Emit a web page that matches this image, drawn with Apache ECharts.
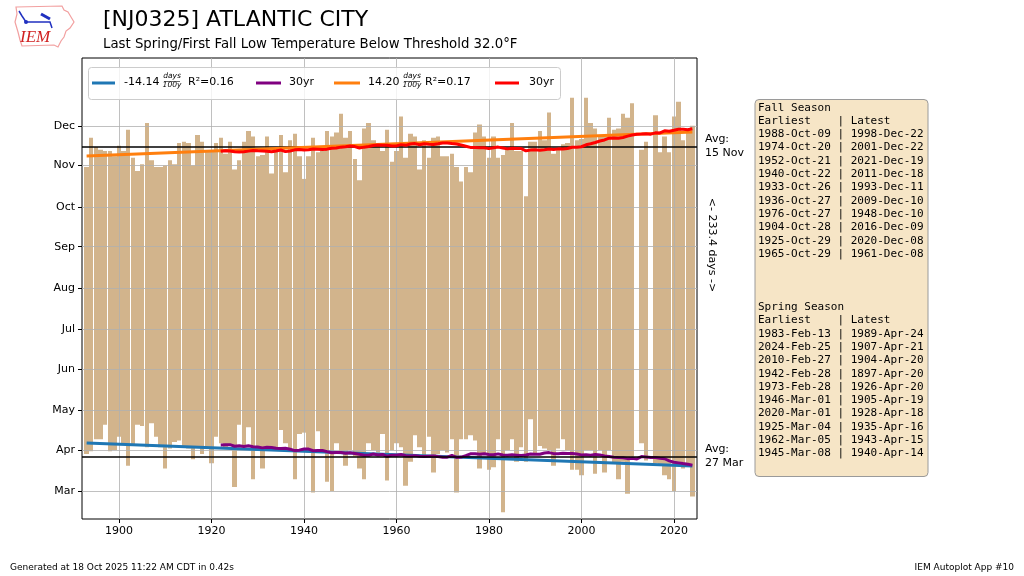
<!DOCTYPE html>
<html>
<head>
<meta charset="utf-8">
<title>[NJ0325] ATLANTIC CITY</title>
<script src="https://cdn.jsdelivr.net/npm/echarts@6/dist/echarts.min.js"></script>
<style>
html,body{margin:0;padding:0;background:#fff;}
#chart{width:1024px;height:576px;}
</style>
</head>
<body>
<div id="chart"></div>
<script>
// first year of record, one value per year after that
var firstYear = 1893;
// last spring day of year at or below 32F (null = year missing)
var springDoy = [
	88, 90, 99, 99,110, 90, 91,101, 96, 79,   // 1893-1902
	94,110,109, 93,111,101, 93, 77, 92, 97,   // 1903-1912
	98, 93, 92, 84, 93, 88, 93, 81,101, 96,   // 1913-1922
	93, 94, 63,110, 94,108, 69, 93, 77, 91,   // 1923-1932
	92, 91,106, 96, 91, 69,103,104, 89, 59,   // 1933-1942
	105, 91, 67, 60, 96, 88, 79, 91, 86, 77,  // 1943-1952
	69, 96, 91, 89,103, 68, 91, 96, 93, 64,   // 1953-1962
	82,102, 93, 87,101, 74, 88, 91, 89, 99,   // 1963-1972
	59, 99, 99,102, 98, 77, 88, 76, 78, 99,   // 1973-1982
	44, 91, 99, 82, 93, 82,114, 88, 94, 92,   // 1983-1992
	91, 79, 92, 99, 91, 76, 76, 72, 91, 91,   // 1993-2002
	73, 91, 74, 91, 81, 69, 82, 58, 86,null,  // 2003-2012
	96, 83,null, 81, 79, 72, 69, 60, 80, 77,  // 2013-2022
	79, 56                                    // 2023-2024
];
// first fall day of year at or below 32F
var fallDoy = [
	304,326,319,317,316,316,312,320,316,332,  // 1893-1902
	311,301,306,337,309,304,304,305,309,306,  // 1903-1912
	322,323,322,305,328,323,316,316,322,326,  // 1913-1922
	314,323,302,309,323,331,327,312,313,327,  // 1923-1932
	299,318,328,300,324,329,312,295,312,326,  // 1933-1942
	315,316,331,327,330,344,326,331,310,294,  // 1943-1952
	333,337,324,322,316,332,308,316,342,311,  // 1953-1962
	329,327,302,324,311,326,327,312,312,314,  // 1963-1972
	304,293,304,300,330,336,327,311,327,311,  // 1973-1982
	313,317,337,316,316,282,323,323,331,324,  // 1983-1992
	345,314,318,321,322,356,324,325,356,337,  // 1993-2002
	333,327,327,341,332,333,344,341,352,null, // 2003-2012
	317,323,null,343,315,327,315,342,353,324, // 2013-2022
	332,335                                   // 2023-2024
];
// y axis ticks (day of year of the 1st of each month)
var monthTicks = [60, 91, 121, 152, 182, 213, 244, 274, 305, 335];
var monthLabels = ['Mar','Apr','May','Jun','Jul','Aug','Sep','Oct','Nov','Dec'];
var yearTicks = [1900, 1920, 1940, 1960, 1980, 2000, 2020];
// averages: 15 Nov / 27 Mar, 233.4 days apart
var avgFall = 319.4;
var avgSpring = 86.0;

var fallTable = [
	'Fall Season',
	'Earliest    | Latest',
	'1988-Oct-09 | 1998-Dec-22',
	'1974-Oct-20 | 2001-Dec-22',
	'1952-Oct-21 | 2021-Dec-19',
	'1940-Oct-22 | 2011-Dec-18',
	'1933-Oct-26 | 1993-Dec-11',
	'1936-Oct-27 | 2009-Dec-10',
	'1976-Oct-27 | 1948-Dec-10',
	'1904-Oct-28 | 2016-Dec-09',
	'1925-Oct-29 | 2020-Dec-08',
	'1965-Oct-29 | 1961-Dec-08'
];
var springTable = [
	'Spring Season',
	'Earliest    | Latest',
	'1983-Feb-13 | 1989-Apr-24',
	'2024-Feb-25 | 1907-Apr-21',
	'2010-Feb-27 | 1904-Apr-20',
	'1942-Feb-28 | 1897-Apr-20',
	'1973-Feb-28 | 1926-Apr-20',
	'1946-Mar-01 | 1905-Apr-19',
	'2020-Mar-01 | 1928-Apr-18',
	'1925-Mar-04 | 1935-Apr-16',
	'1962-Mar-05 | 1943-Apr-15',
	'1945-Mar-08 | 1940-Apr-14'
];

var years = [];
for (var i = 0; i < springDoy.length; i++) {
	years.push(firstYear + i);
}

//least squares line over the years that have data
function trendLine(vals){
	var n=0,sx=0,sy=0,sxx=0,sxy=0;
	for(var i=0;i<vals.length;i++){
		if(vals[i]==null) continue;
		var x=years[i]-1950, y=vals[i];
		n++; sx+=x; sy+=y; sxx+=x*x; sxy+=x*y;
	}
	var b=(n*sxy-sx*sy)/(n*sxx-sx*sx);
	var a=(sy-b*sx)/n;
	var x0=years[0], x1=years[years.length-1];
	return [[x0, a+b*(x0-1950)], [x1, a+b*(x1-1950)]];
}
//30 year trailing mean
function rolling30(vals){
	var out=[];
	for(var i=29;i<vals.length;i++){
		var s=0,n=0;
		for(var j=i-29;j<=i;j++){
			if(vals[j]!=null){ s+=vals[j]; n++; }
		}
		out.push([years[i], s/n]);
	}
	return out;
}

// one item per year: [year, spring, fall]; missing years are left out
var seasonData=[];
for(var i=0;i<years.length;i++){
	if(springDoy[i]==null||fallDoy[i]==null) continue;
	seasonData.push([years[i], springDoy[i], fallDoy[i]]);
}

//bar from spring date up to fall date, edges snapped to whole pixels
function renderSeason(params, api){
	var yr=api.value(0);
	var left=api.coord([yr-0.475, api.value(2)]);
	var right=api.coord([yr+0.475, api.value(1)]);
	var x0=Math.round(left[0]), x1=Math.round(right[0]);
	return {
		type: 'rect',
		shape: {x: x0, y: left[1], width: x1-x0, height: right[1]-left[1]},
		style: {fill: '#d2b48c'}
	};
}

var FONT = 'DejaVu Sans';
var chart = echarts.init(document.getElementById('chart'), null, {renderer:'canvas'});

var option = {
	animation: false,
	backgroundColor: '#fff',
	textStyle: {fontFamily: FONT},
	title: [
		{text: '[NJ0325] ATLANTIC CITY', left: 103, top: 9, padding: 0,
		 textStyle: {fontFamily: FONT, fontSize: 22, fontWeight: 'normal', color: '#000'}},
		{text: 'Last Spring/First Fall Low Temperature Below Threshold 32.0°F', left: 103, top: 38, padding: 0,
		 textStyle: {fontFamily: FONT, fontSize: 13.3, fontWeight: 'normal', color: '#000'}}
	],
	grid: {left: 82, right: 327, top: 58, bottom: 57, show: true, borderColor: '#000', borderWidth: 1, backgroundColor: 'transparent'},
	xAxis: {
		type: 'value', min: 1892, max: 2025, z: 2,
		axisLine: {show: false},
		axisTick: {show: true, length: 4, customValues: yearTicks, lineStyle: {color: '#000'}},
		axisLabel: {customValues: yearTicks, color: '#000', fontSize: 11, margin: 7, fontFamily: FONT,
			formatter: function(v){ return String(v); }},
		splitLine: {show: true, lineStyle: {color: '#b0b0b0', width: 0.8}}
	},
	yAxis: {
		type: 'value', min: 39, max: 386, z: 2,
		axisLine: {show: false},
		axisTick: {show: true, length: 4, customValues: monthTicks, lineStyle: {color: '#000'}},
		axisLabel: {customValues: monthTicks, color: '#000', fontSize: 11, margin: 7, fontFamily: FONT,
			formatter: function(v){ var k=monthTicks.indexOf(v); return k<0?'':monthLabels[k]; }},
		splitLine: {show: true, lineStyle: {color: '#b0b0b0', width: 0.8}}
	},
	series: [
		{name: 'season', type: 'custom', renderItem: renderSeason, data: seasonData, z: 1, clip: true,
		 encode: {x: 0, y: [1, 2]}},
		{name: 'spring trend', type: 'line', data: trendLine(springDoy), symbol: 'none', z: 3,
		 lineStyle: {color: '#1f77b4', width: 3},
		 markLine: {silent: true, symbol: 'none', label: {show: false}, lineStyle: {color: '#000', width: 1.5, type: 'solid'},
			data: [{yAxis: avgFall}, {yAxis: avgSpring}]}},
		{name: 'spring 30yr', type: 'line', data: rolling30(springDoy), symbol: 'none', z: 4,
		 lineStyle: {color: '#800080', width: 3}},
		{name: 'fall trend', type: 'line', data: trendLine(fallDoy), symbol: 'none', z: 5,
		 lineStyle: {color: '#ff7f0e', width: 3}},
		{name: 'fall 30yr', type: 'line', data: rolling30(fallDoy), symbol: 'none', z: 6,
		 lineStyle: {color: '#ff0000', width: 3}}
	]
};
chart.setOption(option);

// annotations and boxes, positioned after the axes exist
function txt(x, y, s, extra){
	var st = {text: s, x: 0, y: 0, fill: '#000', fontFamily: FONT, fontSize: 11, verticalAlign: 'middle', align: 'left'};
	for (var k in extra) st[k] = extra[k];
	return {type: 'text', x: x, y: y, style: st, z: 10};
}
function legLine(x0, x1, y, color){
	return {type: 'line', shape: {x1: x0, y1: y, x2: x1, y2: y}, style: {stroke: color, lineWidth: 3}, z: 10};
}
function frac(cx, y){
	return [
		txt(cx, y-6.5, 'days', {align: 'center', fontSize: 7.5, fontStyle: 'italic'}),
		{type: 'line', shape: {x1: cx-8, y1: y-1.5, x2: cx+8, y2: y-1.5}, style: {stroke: '#000', lineWidth: 0.6}, z: 10},
		txt(cx, y+2.5, '100y', {align: 'center', fontSize: 7.5, fontStyle: 'italic'})
	];
}

var yFall = chart.convertToPixel({yAxisIndex: 0}, avgFall);
var ySpring = chart.convertToPixel({yAxisIndex: 0}, avgSpring);
var ly = 83;
var g = [];
// IEM logo
g.push({type: 'polygon', shape: {points: [[16,7],[62,6],[64,10],[68,12],[71,17],[74,22],[70,28],[66,31],[64,37],[61,41],[58,47],[54,45],[22,46],[20,40],[18,32],[15,22],[17,14]]},
	style: {fill: 'none', stroke: '#f2a0a0', lineWidth: 1.2}, z: 10});
g.push({type: 'polyline', shape: {points: [[19,11],[22,16],[26,22],[50,22],[52,28]]}, style: {stroke: '#2030c0', lineWidth: 1.5, fill: 'none'}, z: 10});
g.push({type: 'line', shape: {x1: 41, y1: 14, x2: 50, y2: 19}, style: {stroke: '#2030c0', lineWidth: 3}, z: 10});
g.push({type: 'circle', shape: {cx: 26, cy: 22, r: 2}, style: {fill: '#2030c0'}, z: 10});
g.push(txt(20, 38, 'IEM', {fill: '#d02020', fontFamily: 'Liberation Serif', fontStyle: 'italic', fontSize: 17}));
// legend
g.push({type: 'rect', shape: {x: 88.5, y: 67.5, width: 472, height: 32, r: 3}, style: {fill: 'rgba(255,255,255,0.8)', stroke: '#cccccc', lineWidth: 1}, z: 9});
g.push(legLine(92, 115, ly, '#1f77b4'));
g.push(txt(124, ly-0.5, '-14.14'));
g = g.concat(frac(172, ly));
g.push(txt(188, ly-0.5, 'R²=0.16'));
g.push(legLine(256, 281, ly, '#800080'));
g.push(txt(289, ly-0.5, '30yr'));
g.push(legLine(334, 360, ly, '#ff7f0e'));
g.push(txt(368, ly-0.5, '14.20'));
g = g.concat(frac(412, ly));
g.push(txt(425, ly-0.5, 'R²=0.17'));
g.push(legLine(495, 519, ly, '#ff0000'));
g.push(txt(529, ly-0.5, '30yr'));
// right side notes
g.push(txt(705, yFall, 'Avg:\n15 Nov', {lineHeight: 14}));
g.push(txt(705, ySpring, 'Avg:\n27 Mar', {lineHeight: 14}));
g.push({type: 'text', x: 712, y: 245, rotation: -Math.PI/2, z: 10,
	style: {text: '<- ' + (avgFall - avgSpring).toFixed(1) + ' days ->', fill: '#000', fontFamily: FONT, fontSize: 11, align: 'center', verticalAlign: 'middle'}});
// season extremes box
g.push({type: 'rect', shape: {x: 755, y: 99.5, width: 173, height: 377, r: 4}, style: {fill: '#f6e5c6', stroke: '#9a9a9a', lineWidth: 1}, z: 9});
g.push({type: 'text', x: 758, y: 101, z: 10,
	style: {text: fallTable.concat(['', '', '']).concat(springTable).join('\n'), fill: '#000', fontFamily: 'DejaVu Sans Mono', fontSize: 11, lineHeight: 13.3, verticalAlign: 'top'}});
// footer
g.push(txt(10, 568, 'Generated at 18 Oct 2025 11:22 AM CDT in 0.42s', {fontSize: 9}));
g.push(txt(1014, 568, 'IEM Autoplot App #10', {fontSize: 9, align: 'right'}));

chart.setOption({graphic: g});
</script>
</body>
</html>
